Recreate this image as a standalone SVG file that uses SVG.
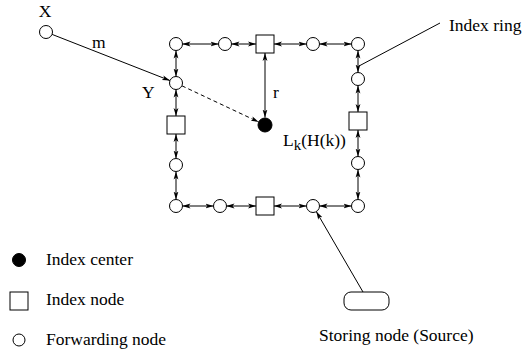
<svg xmlns="http://www.w3.org/2000/svg" width="524" height="354" viewBox="0 0 524 354" font-family="'Liberation Serif', 'Times New Roman', serif">
  <style>
    .n { fill: #fff; stroke: #000; stroke-width: 1; }
    .c { fill: #000; stroke: #000; stroke-width: 1; }
    .e { fill: none; stroke: #000; stroke-width: 1; }
    .d { marker-start: url(#ah); marker-end: url(#ah); }
    .s { marker-end: url(#ah); }
    .dash { stroke-dasharray: 4 3; }
    text { font-family: "Liberation Serif", "Times New Roman", serif; font-size: 17.5px; fill: #000; }
  </style>
  <defs>
    <marker id="ah" viewBox="0 0 8 6" refX="8" refY="3" markerWidth="8" markerHeight="6" markerUnits="userSpaceOnUse" orient="auto-start-reverse">
      <path d="M0,0.6 L8,3 L0,5.4 L2,3 Z" fill="#000"/>
    </marker>
  </defs>
  <rect width="524" height="354" fill="#fff"/>

  <!-- connectors -->
  <g id="connectors">
    <!-- top side of the ring -->
    <line class="e d" x1="182.5" y1="44" x2="218.5" y2="44"/>
    <line class="e d" x1="231.5" y1="44" x2="256" y2="44"/>
    <line class="e d" x1="274" y1="44" x2="306.5" y2="44"/>
    <line class="e d" x1="319.5" y1="44" x2="351.5" y2="44"/>
    <!-- left side -->
    <line class="e d" x1="176" y1="50.5" x2="176" y2="76.5"/>
    <line class="e d" x1="176" y1="89.5" x2="176" y2="116"/>
    <line class="e d" x1="176" y1="134" x2="176" y2="158.5"/>
    <line class="e d" x1="176" y1="171.5" x2="176" y2="199.5"/>
    <!-- bottom side -->
    <line class="e d" x1="182.5" y1="206" x2="213.5" y2="206"/>
    <line class="e d" x1="226.5" y1="206" x2="256" y2="206"/>
    <line class="e d" x1="274" y1="206" x2="306.5" y2="206"/>
    <line class="e d" x1="319.5" y1="206" x2="351.5" y2="206"/>
    <!-- right side -->
    <line class="e d" x1="358" y1="50.5" x2="358" y2="72.5"/>
    <line class="e d" x1="358" y1="85.5" x2="358" y2="112"/>
    <line class="e d" x1="358" y1="130" x2="358" y2="156.5"/>
    <line class="e d" x1="358" y1="169.5" x2="358" y2="199.5"/>
    <!-- radius r -->
    <line class="e d" x1="265" y1="53" x2="265" y2="117.5"/>
    <!-- message m from X to Y -->
    <line class="e s" x1="52.1" y1="34.4" x2="170" y2="80.6"/>
    <!-- Y towards index center -->
    <line class="e s dash" x1="181.9" y1="85.8" x2="258.7" y2="122"/>
    <!-- storing node to ring -->
    <line class="e s" x1="363" y1="292" x2="316.3" y2="211.6"/>
    <!-- index ring pointer -->
    <line class="e" x1="440" y1="23" x2="359" y2="66"/>
  </g>

  <!-- ring nodes -->
  <g id="n-top-1"><circle class="n" cx="176" cy="44" r="6.5"/></g>
  <g id="n-top-2"><circle class="n" cx="225" cy="44" r="6.5"/></g>
  <g id="n-top-3"><rect class="n" x="256" y="35" width="18" height="18"/></g>
  <g id="n-top-4"><circle class="n" cx="313" cy="44" r="6.5"/></g>
  <g id="n-top-5"><circle class="n" cx="358" cy="44" r="6.5"/></g>
  <g id="n-left-y"><circle class="n" cx="176" cy="83" r="6.5"/></g>
  <g id="n-left-2"><rect class="n" x="167" y="116" width="18" height="18"/></g>
  <g id="n-left-3"><circle class="n" cx="176" cy="165" r="6.5"/></g>
  <g id="n-bot-1"><circle class="n" cx="176" cy="206" r="6.5"/></g>
  <g id="n-bot-2"><circle class="n" cx="220" cy="206" r="6.5"/></g>
  <g id="n-bot-3"><rect class="n" x="256" y="197" width="18" height="18"/></g>
  <g id="n-bot-4"><circle class="n" cx="313" cy="206" r="6.5"/></g>
  <g id="n-bot-5"><circle class="n" cx="358" cy="206" r="6.5"/></g>
  <g id="n-right-1"><circle class="n" cx="358" cy="79" r="6.5"/></g>
  <g id="n-right-2"><rect class="n" x="349" y="112" width="18" height="18"/></g>
  <g id="n-right-3"><circle class="n" cx="358" cy="163" r="6.5"/></g>

  <!-- index center -->
  <g id="center"><circle class="c" cx="265" cy="125" r="7"/></g>

  <!-- source X -->
  <g id="x"><circle class="n" cx="46" cy="32" r="6.5"/></g>

  <!-- storing node -->
  <g id="storing"><rect class="n" x="344" y="292" width="45" height="18" rx="7"/></g>

  <!-- labels -->
  <g id="labels">
    <text x="45" y="17" text-anchor="middle">X</text>
    <text x="92" y="48">m</text>
    <text x="142" y="98">Y</text>
    <text x="273" y="98">r</text>
    <text x="449" y="31">Index ring</text>
    <text x="283" y="146">L<tspan dy="4" font-size="15">k</tspan><tspan dy="-4">(H(k))</tspan></text>
    <text x="319" y="341">Storing node (Source)</text>
  </g>

  <!-- legend -->
  <g id="legend-center">
    <circle class="c" cx="19" cy="260" r="6.5"/>
    <text x="46" y="265">Index center</text>
  </g>
  <g id="legend-index">
    <rect class="n" x="10" y="292" width="18" height="18"/>
    <text x="46" y="305">Index node</text>
  </g>
  <g id="legend-forward">
    <circle class="n" cx="19" cy="340" r="6"/>
    <text x="46" y="345">Forwarding node</text>
  </g>
</svg>
